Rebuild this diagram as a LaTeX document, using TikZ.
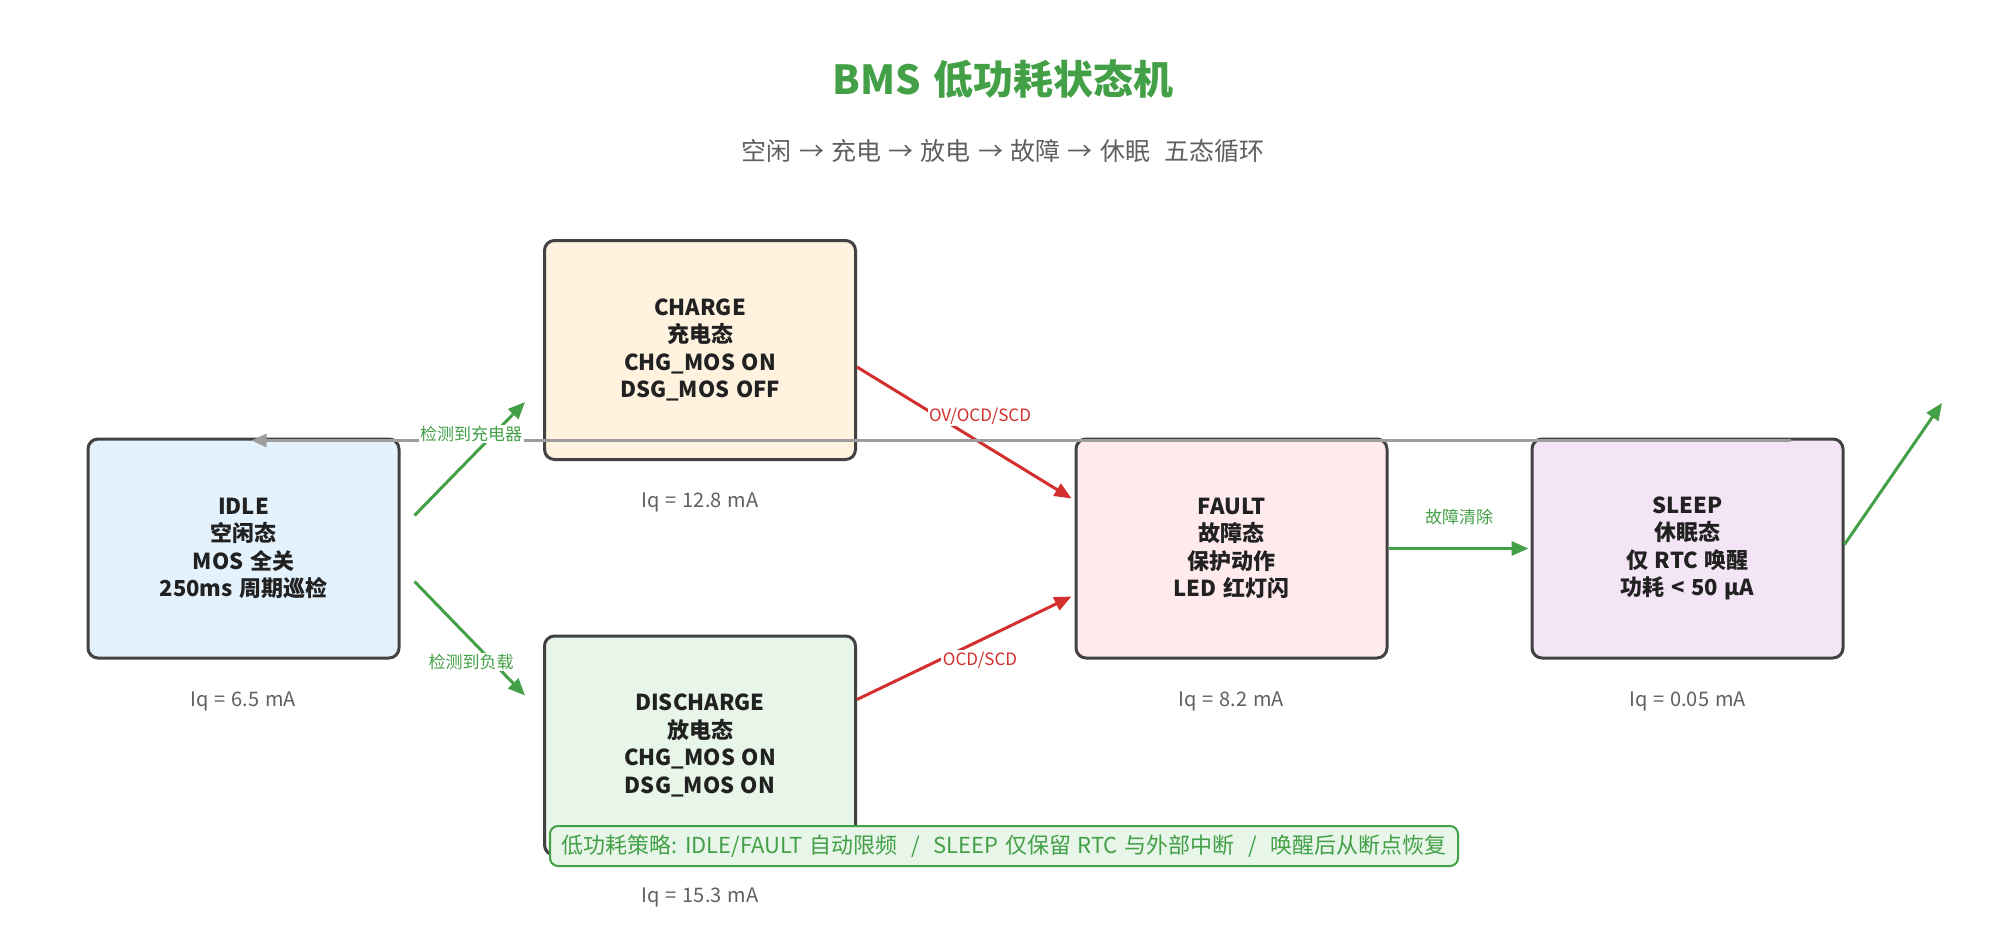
\documentclass[tikz,border=0pt]{standalone}
\usepackage{fontspec}
\setmainfont{Noto Sans CJK SC}[WordSpace=1.3]
\usetikzlibrary{arrows.meta,calc}
\definecolor{mygreen}{HTML}{43A047}
\definecolor{myred}{HTML}{D32F2F}
\definecolor{mygray}{HTML}{9E9E9E}
\definecolor{boxborder}{HTML}{424242}
\definecolor{textdark}{HTML}{212121}
\definecolor{textgray}{HTML}{5F5F5F}
\definecolor{idlefill}{HTML}{E3F2FD}
\definecolor{chgfill}{HTML}{FFF3E0}
\definecolor{dsgfill}{HTML}{E8F5E9}
\definecolor{faultfill}{HTML}{FFEBEE}
\definecolor{sleepfill}{HTML}{F3E5F5}
\begin{document}
\begin{tikzpicture}[x=1pt,y=-1pt,
  state/.style={draw=boxborder, line width=3pt, rounded corners=10pt,
    minimum width=311pt, minimum height=219pt, align=center,
    font=\fontsize{22}{27.5}\selectfont\bfseries, text=textdark},
  iq/.style={text=textgray, font=\fontsize{20}{23}\selectfont},
  gar/.style={draw=mygreen, line width=3pt, -{Triangle[length=17pt,width=14pt]}},
  rar/.style={draw=myred, line width=3pt, -{Triangle[length=17pt,width=14pt]}},
  grar/.style={draw=mygray, line width=3pt, -{Triangle[length=15pt,width=13pt]}},
  glab/.style={fill=white, inner sep=1.5pt, text=mygreen, font=\fontsize{17}{20}\selectfont},
  rlab/.style={fill=white, inner sep=1.5pt, text=myred, font=\fontsize{17}{20}\selectfont},
  banner/.style={draw=mygreen, line width=2pt, fill=dsgfill, rounded corners=8pt,
    minimum width=908pt, minimum height=40pt, text=mygreen, inner sep=2pt,
    font=\fontsize{22}{24}\selectfont}
]
\useasboundingbox (0,0) rectangle (2007,944);
% title
\node[text=mygreen, font=\fontsize{40}{46}\selectfont\bfseries] (title) at (1003,79) {BMS 低功耗状态机};
\node[text=textgray, font=\fontsize{25}{28}\selectfont] (subtitle) at (1003,151) {空闲 → 充电 → 放电 → 故障 → 休眠\hspace{14pt}五态循环};
% states
\node[state, fill=idlefill] (idle) at (243.5,548.5) {IDLE\\空闲态\\MOS 全关\\250ms 周期巡检};
\node[state, fill=chgfill] (chg) at (700,350) {CHARGE\\充电态\\CHG\_MOS ON\\DSG\_MOS OFF};
\node[state, fill=dsgfill] (dsg) at (700,745.5) {DISCHARGE\\放电态\\CHG\_MOS ON\\DSG\_MOS ON};
\node[state, fill=faultfill] (fault) at (1231.5,548.5) {FAULT\\故障态\\保护动作\\LED 红灯闪};
\node[state, fill=sleepfill] (sleep) at (1687.5,548.5) {SLEEP\\休眠态\\仅 RTC 唤醒\\功耗 < 50 μA};
% Iq labels
\node[iq] (iqidle) at (243.5,701) {Iq = 6.5 mA};
\node[iq] (iqchg) at (700,502) {Iq = 12.8 mA};
\node[iq] (iqdsg) at (700,897) {Iq = 15.3 mA};
\node[iq] (iqfault) at (1231.5,701) {Iq = 8.2 mA};
\node[iq] (iqsleep) at (1687.5,701) {Iq = 0.05 mA};
% connectors
\coordinate (wakeend) at (1942,403);
\draw[gar] ($(idle.east)+(14,-33)$) -- ($(chg.west)+(-18,52)$);
\draw[gar] ($(idle.east)+(14,33)$) -- ($(dsg.west)+(-18,-50)$);
\draw[rar] ($(chg.east)+(0,17)$) -- ($(fault.west)+(-3,-50)$);
\draw[rar] ($(dsg.east)+(0,-46)$) -- ($(fault.west)+(-3,48)$);
\draw[gar] (fault.east) -- ($(sleep.west)+(-2,0)$);
\draw[gar] ($(sleep.east)+(0,-4)$) -- (wakeend);
\draw[grar] ($(sleep.north east)+(-54,3)$) -- ($(idle.north)+(8,3)$);
% edge labels
\node[glab] (l1) at (471,434) {检测到充电器};
\node[glab] (l2) at (471,662) {检测到负载};
\node[rlab] (l3) at (980,416) {OV/OCD/SCD};
\node[rlab] (l4) at (980,660) {OCD/SCD};
\node[text=mygreen, font=\fontsize{17}{20}\selectfont] (l5) at (1459,517) {故障清除};
% banner
\node[banner] (note) at (1004,846) {低功耗策略: IDLE/FAULT 自动限频\hspace{14pt}/\hspace{14pt}SLEEP 仅保留 RTC 与外部中断\hspace{14pt}/\hspace{14pt}唤醒后从断点恢复};
\end{tikzpicture}
\end{document}
